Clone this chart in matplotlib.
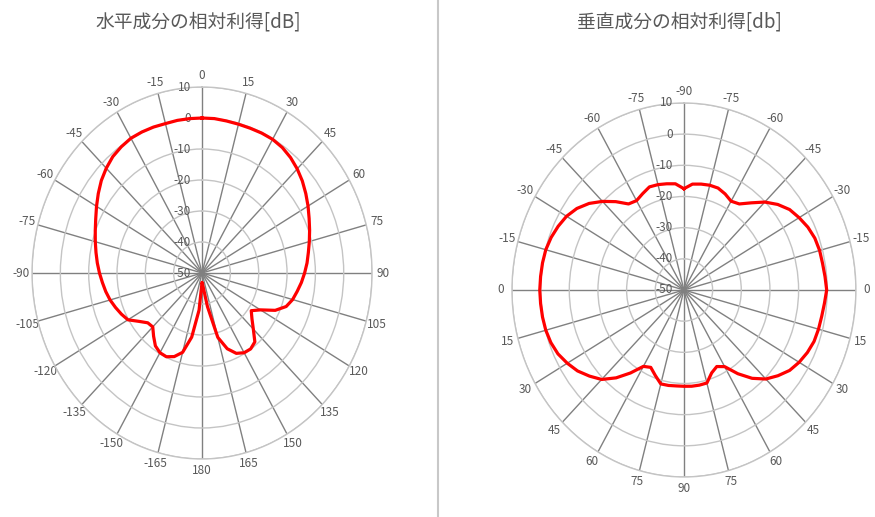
import matplotlib

matplotlib.use("Agg")
import numpy as np
from matplotlib import pyplot as plt
from matplotlib.lines import Line2D

plt.rcParams["font.family"] = ["Noto Sans CJK JP", "DejaVu Sans"]

# radial axis (dB)
r_ticks = [-50, -40, -30, -20, -10, 0, 10]

# spoke positions, clockwise from the top
spoke_deg = list(range(0, 360, 15))
h_spoke_labels = ["0", "15", "30", "45", "60", "75", "90", "105", "120", "135", "150", "165",
                  "180", "-165", "-150", "-135", "-120", "-105", "-90", "-75", "-60", "-45", "-30", "-15"]
v_spoke_labels = ["-90", "-75", "-60", "-45", "-30", "-15", "0", "15", "30", "45", "60", "75",
                  "90", "75", "60", "45", "30", "15", "0", "-15", "-30", "-45", "-60", "-75"]

# horizontal component, measured every 5 degrees
h_angle_deg = list(range(0, 360, 5))
h_gain_db = [
    0.0, 0.0, -0.2, -0.3, -0.3, -0.2, -0.2, -0.6, -1.4, -2.5, -3.8, -5.3,
    -6.8, -8.3, -9.6, -10.8, -11.9, -12.8, -13.8, -14.8, -15.9, -16.9, -18.4, -21.5,
    -26.2, -28.8, -27.0, -24.4, -21.0, -20.1, -20.3, -21.4, -24.0, -28.5, -39.0, -45.5,
    -47.0, -38.0, -29.0, -23.5, -21.3, -20.2, -20.3, -21.3, -23.4, -25.4, -25.0, -22.8,
    -19.8, -18.6, -17.5, -16.4, -15.5, -14.7, -13.8, -12.9, -12.0, -11.0, -9.9, -8.6,
    -7.0, -5.3, -3.6, -2.2, -1.0, -0.3, 0.2, 0.2, 0.1, -0.1, 0.0, 0.0,
]

# vertical component, measured every 5 degrees
v_angle_deg = list(range(0, 360, 5))
v_gain_db = [
    -17.5, -15.9, -15.5, -15.2, -15.2, -16.0, -17.1, -16.3, -13.5, -10.1, -7.3, -5.0,
    -3.6, -2.3, -1.4, -1.0, -0.9, -0.6, -0.2, -0.8, -1.2, -1.4, -1.7, -2.5,
    -3.6, -5.0, -7.2, -9.6, -13.0, -17.2, -21.6, -22.9, -21.7, -19.1, -19.0, -19.0,
    -19.1, -19.1, -18.9, -18.8, -20.8, -22.6, -21.7, -17.5, -13.2, -9.4, -7.0, -4.7,
    -3.0, -1.5, -0.6, -0.1, 0.1, 0.2, 0.3, 0.2, 0.1, -0.1, -0.7, -1.6,
    -2.7, -4.4, -6.8, -9.8, -13.0, -16.3, -16.9, -15.9, -14.8, -15.0, -15.4, -15.8,
]

TEXT = "#595959"


def radar(fig, rect, angles, gains, spoke_labels, title, title_x):
    ax = fig.add_axes(rect, projection="polar")
    ax.set_aspect("auto")
    ax.set_theta_zero_location("N")
    ax.set_theta_direction(-1)
    ax.set_ylim(r_ticks[0], r_ticks[-1])
    ax.set_yticks(r_ticks)
    ax.set_yticklabels([])
    ax.set_thetagrids(spoke_deg, spoke_labels, color=TEXT, fontsize=8.5)
    ax.tick_params(axis="x", pad=1, length=0)
    ax.xaxis.grid(True, color="#808080", linewidth=1.0)
    ax.yaxis.grid(True, color="#c4c4c4", linewidth=1.0)
    ax.spines["polar"].set_color("#c4c4c4")
    ax.spines["polar"].set_linewidth(1.0)

    for r in r_ticks:
        ax.annotate(str(r), xy=(0, r), xytext=(-8, 0), textcoords="offset points",
                    ha="right", va="center", color=TEXT, fontsize=8.5)

    th = np.deg2rad(angles + angles[:1])
    ax.plot(th, gains + gains[:1], color="#ff0000", linewidth=2.3, zorder=5)

    fig.text(title_x, 0.957, title, ha="center", va="center", color=TEXT, fontsize=13.5)
    return ax


fig = plt.figure(figsize=(8.75, 5.17), dpi=100)

radar(fig, [0.0366, 0.1122, 0.3886, 0.7195], h_angle_deg, h_gain_db,
      h_spoke_labels, "水平成分の相対利得[dB]", 0.227)
radar(fig, [0.5851, 0.0774, 0.3931, 0.7234], v_angle_deg, v_gain_db,
      v_spoke_labels, "垂直成分の相対利得[db]", 0.777)

fig.add_artist(Line2D([0.5006, 0.5006], [0, 1], color="#c8c8c8", linewidth=1.5))

fig.savefig("out.png", dpi=100)
